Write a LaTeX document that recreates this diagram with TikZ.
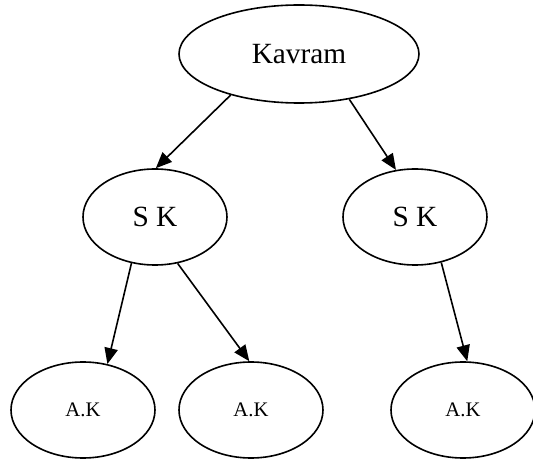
\documentclass[tikz,border=0pt]{standalone}
\usepackage{fontspec}
\setmainfont{Liberation Serif}
\usepackage{tikz}
\usetikzlibrary{positioning, arrows.meta, shapes.geometric}
\tikzset{
    concept/.style={ellipse, draw=black, line width=1.2pt, minimum width=180pt, minimum height=73.5pt, align=center, font=\fontsize{22}{26}\selectfont},
    sub/.style={ellipse, draw=black, line width=1.2pt, minimum width=108pt, minimum height=72pt, align=center, font=\fontsize{22}{26}\selectfont},
    leaf/.style={ellipse, draw=black, line width=1.2pt, minimum width=108pt, minimum height=72pt, align=center, font=\fontsize{15.5}{18}\selectfont},
    arrow/.style={-{Triangle[length=12pt, width=10pt]}, line width=1.2pt}
}

\begin{document}
\begin{tikzpicture}[on grid]
        \useasboundingbox (-224.25pt,40.5pt) rectangle (175.5pt,-304.5pt);

        % Nodes
        \node[concept] (kav) {Kavram};
        \node[sub, below left=122.25pt and 108pt of kav] (skl) {S K};
        \node[sub, below right=122.25pt and 87pt of kav] (skr) {S K};
        \node[leaf, below left=144.75pt and 54pt of skl] (akl) {A.K};
        \node[leaf, below right=144.75pt and 72pt of skl] (akm) {A.K};
        \node[leaf, below right=144.75pt and 36pt of skr] (akr) {A.K};

        % Edges
        \draw[arrow] (kav.211) -- (skl.89);
        \draw[arrow] (kav.-42) -- (skr.112);
        \draw[arrow] (skl.243) -- (akl.62);
        \draw[arrow] (skl.-64) -- (akm.92);
        \draw[arrow] (skr.-60) -- (akr.85);

    \end{tikzpicture}
\end{document}
